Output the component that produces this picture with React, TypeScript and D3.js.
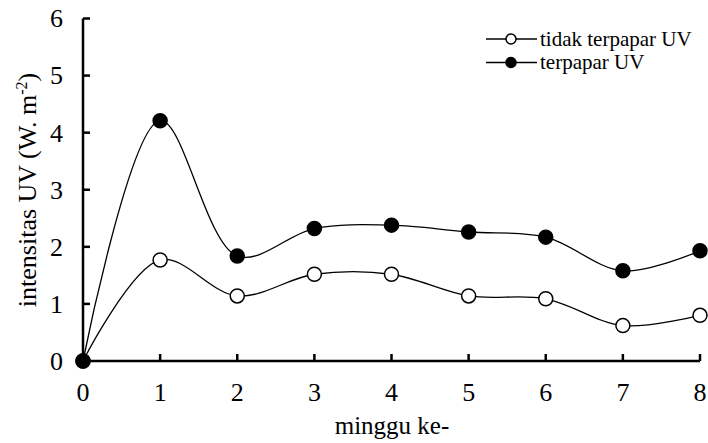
import React from "react";
import * as d3 from "d3";

const weeks = [0, 1, 2, 3, 4, 5, 6, 7, 8];
const tidakTerpapar = [0, 1.77, 1.14, 1.52, 1.52, 1.14, 1.09, 0.62, 0.8];
const terpapar = [0, 4.21, 1.84, 2.32, 2.38, 2.26, 2.17, 1.58, 1.93];
const yTicks = [0, 1, 2, 3, 4, 5, 6];
const xTicks = [0, 1, 2, 3, 4, 5, 6, 7, 8];
const seriesNames = ["tidak terpapar UV", "terpapar UV"];

const W = 708;
const H = 443;
const FONT = "Liberation Serif, Times New Roman, serif";
const txt = { fontFamily: FONT };

export default function App() {
  const x = d3.scaleLinear().domain([0, 8]).range([83, 700]);
  const y = d3.scaleLinear().domain([0, 6]).range([361, 18.5]);
  const line = d3
    .line<number>()
    .x((_, i) => x(weeks[i]))
    .y((d) => y(d))
    .curve(d3.curveCatmullRom.alpha(0.5));

  const series = [
    { name: seriesNames[0], values: tidakTerpapar, fill: "#fff" },
    { name: seriesNames[1], values: terpapar, fill: "#000" },
  ];

  return (
    <svg
      width={W}
      height={H}
      style={{ position: "absolute", left: 0, top: 0, background: "#fff", fontFamily: FONT }}
    >
      {/* axes */}
      <line x1={x(0)} x2={x(0)} y1={y(0)} y2={y(6)} stroke="#000" strokeWidth={2.5} />
      <line x1={x(0)} x2={x(8)} y1={y(0)} y2={y(0)} stroke="#000" strokeWidth={2.5} />
      {yTicks.map((t) => (
        <g key={"y" + t}>
          <line x1={x(0)} x2={x(0) + 7} y1={y(t)} y2={y(t)} stroke="#000" strokeWidth={2.5} />
          <text x={63} y={y(t)} dy="0.34em" textAnchor="end" fontSize={26} style={txt}>
            {t}
          </text>
        </g>
      ))}
      {xTicks.map((t) => (
        <g key={"x" + t}>
          {t > 0 && (
            <line x1={x(t)} x2={x(t)} y1={y(0)} y2={y(0) - 7} stroke="#000" strokeWidth={2.5} />
          )}
          <text x={x(t)} y={401} textAnchor="middle" fontSize={26} style={txt}>
            {t}
          </text>
        </g>
      ))}
      <text x={392} y={434} textAnchor="middle" fontSize={25} style={txt}>
        minggu ke-
      </text>
      <text
        transform={`translate(36, 190) rotate(-90)`}
        textAnchor="middle"
        fontSize={26}
        style={txt}
      >
        intensitas UV (W. m<tspan dy="-9" fontSize={16}>-2</tspan>
        <tspan dy="9">)</tspan>
      </text>

      {/* series */}
      {series.map((s) => (
        <g key={s.name}>
          <path d={line(s.values) || ""} fill="none" stroke="#000" strokeWidth={1.3} />
          {s.values.map((v, i) => (
            <circle
              key={i}
              cx={x(weeks[i])}
              cy={y(v)}
              r={7}
              fill={s.fill}
              stroke="#000"
              strokeWidth={1.5}
            />
          ))}
        </g>
      ))}

      {/* legend */}
      {series.map((s, i) => {
        const ly = 39 + i * 23.5;
        return (
          <g key={"leg" + i}>
            <line x1={486} x2={537} y1={ly} y2={ly} stroke="#000" strokeWidth={1.3} />
            <circle cx={511} cy={ly} r={5} fill={s.fill} stroke="#000" strokeWidth={1.5} />
            <text x={540} y={ly} dy="0.33em" fontSize={21} style={txt}>
              {s.name}
            </text>
          </g>
        );
      })}
    </svg>
  );
}
